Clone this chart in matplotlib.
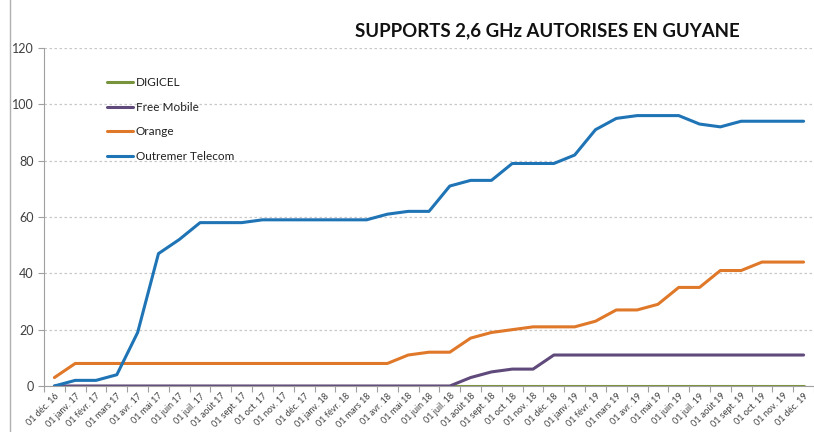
import matplotlib
matplotlib.use("Agg")
import matplotlib.pyplot as plt

months = [
    "01 déc. 16", "01 janv. 17", "01 févr. 17", "01 mars 17", "01 avr. 17", "01 mai 17",
    "01 juin 17", "01 juil. 17", "01 août 17", "01 sept. 17", "01 oct. 17", "01 nov. 17",
    "01 déc. 17", "01 janv. 18", "01 févr. 18", "01 mars 18", "01 avr. 18", "01 mai 18",
    "01 juin 18", "01 juil. 18", "01 août 18", "01 sept. 18", "01 oct. 18", "01 nov. 18",
    "01 déc. 18", "01 janv. 19", "01 févr. 19", "01 mars 19", "01 avr. 19", "01 mai 19",
    "01 juin 19", "01 juil. 19", "01 août 19", "01 sept. 19", "01 oct. 19", "01 nov. 19",
    "01 déc. 19",
]

digicel = [0] * 37
free_mobile = [0] * 20 + [3, 5, 6, 6] + [11] * 13
orange = [3] + [8] * 16 + [11, 12, 12, 17, 19, 20, 21, 21, 21, 23, 27, 27, 29,
                           35, 35, 41, 41, 44, 44, 44]
outremer = [0, 2, 2, 4, 19, 47, 52, 58, 58, 58, 59, 59, 59, 59, 59, 59, 61, 62, 62,
            71, 73, 73, 79, 79, 79, 82, 91, 95, 96, 96, 96, 93, 92, 94, 94, 94, 94]

series = [
    ("DIGICEL", digicel, "#77933c"),
    ("Free Mobile", free_mobile, "#604a7b"),
    ("Orange", orange, "#e0782a"),
    ("Outremer Telecom", outremer, "#1f74b6"),
]

plt.rcParams["font.family"] = ["Lato", "DejaVu Sans"]

fig = plt.figure(figsize=(8.14, 4.32), dpi=100)
ax = fig.add_axes([44 / 814, 46 / 432, 1 - 44 / 814, 338 / 432])

x = list(range(len(months)))
for name, values, color in series:
    ax.plot(x, values, color=color, linewidth=2.2, label=name, solid_capstyle="round")

ax.set_xlim(-0.5, len(months) - 0.5)
ax.set_ylim(0, 120)
ax.set_yticks(range(0, 121, 20))
ax.yaxis.grid(True, linestyle=(0, (2, 2)), color="#c8c8c8", linewidth=0.9)
ax.set_axisbelow(True)

ax.set_xticks([i - 0.5 for i in x] + [len(months) - 0.5])
ax.set_xticklabels([])
ax.set_xticks(x, minor=True)
ax.set_xticklabels(months, minor=True, rotation=45, ha="right", va="top",
                   rotation_mode="anchor", fontsize=6.5, color="#404040")
ax.tick_params(axis="x", which="minor", length=0, pad=4)
ax.tick_params(axis="x", which="major", length=4, color="#a0a0a0")
ax.tick_params(axis="y", length=4, color="#a0a0a0", labelsize=9, labelcolor="#404040")

for side in ["top", "right"]:
    ax.spines[side].set_visible(False)
ax.spines["left"].set_color("#a0a0a0")
ax.spines["bottom"].set_color("#a0a0a0")

leg = ax.legend(loc="upper left", bbox_to_anchor=(0.068, 0.945), frameon=False,
                fontsize=8.5, handlelength=2.2, labelspacing=1.15, handletextpad=0.25)
for t in leg.get_texts():
    t.set_color("#202020")

fig.text(0.672, 0.928, "SUPPORTS 2,6 GHz AUTORISES EN GUYANE", ha="center", va="center",
         fontsize=13.4, fontweight="bold", color="#111111")

fig.add_artist(plt.Line2D([10 / 814, 10 / 814], [0, 1], color="#b0b0b0", linewidth=1,
                          transform=fig.transFigure))

fig.savefig("out.png", dpi=100)
